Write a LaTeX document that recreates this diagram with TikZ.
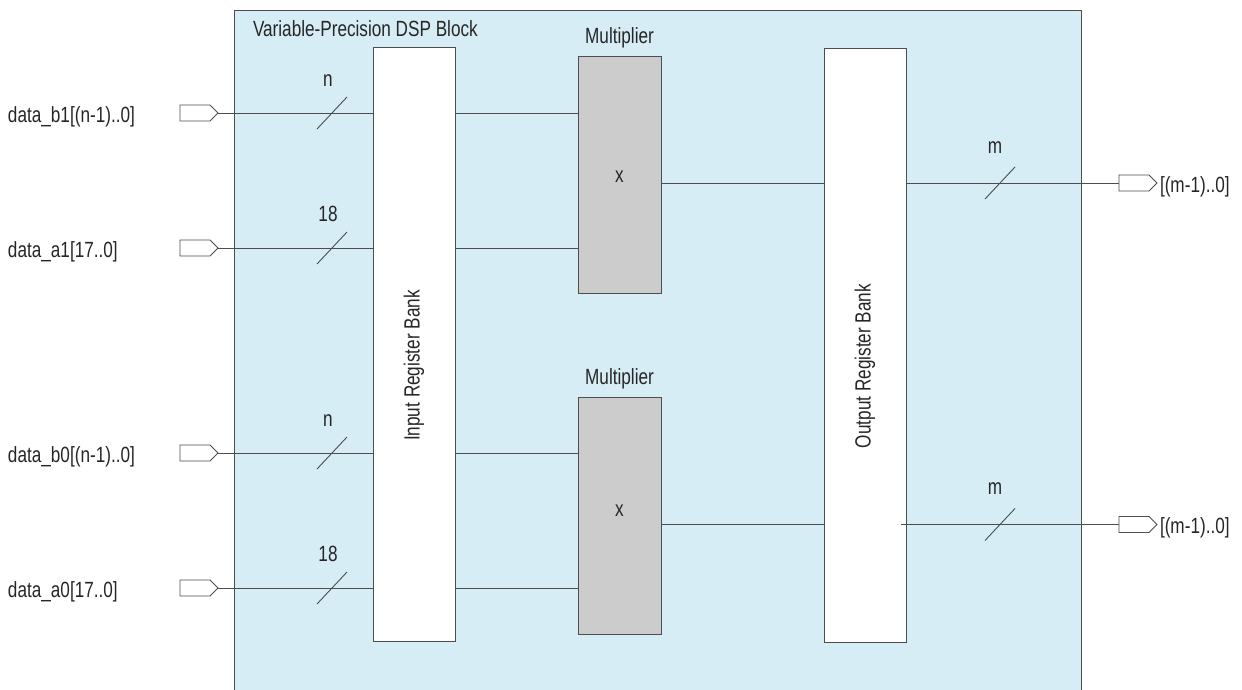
\documentclass[tikz,border=0pt]{standalone}
\usepackage{fontspec}
\setmainfont{Liberation Sans}[FakeStretch=0.78]
\usepackage{xcolor}
\usetikzlibrary{positioning,calc,shapes.symbols}

\definecolor{dspblue}{RGB}{214,237,245}
\definecolor{multgray}{RGB}{204,204,204}
\definecolor{linegray}{RGB}{77,77,77}

\begin{document}
\begin{tikzpicture}[
    x=1pt, y=-1pt,
    outer sep=0pt,
    txt/.style={font=\fontsize{22}{26}\selectfont, inner sep=0pt, text=black!85},
    bank/.style={draw=linegray, line width=1pt, fill=white, minimum width=82pt, minimum height=594pt, inner sep=0pt},
    mult/.style={draw=linegray, line width=1pt, fill=multgray, minimum width=83pt, minimum height=237pt, inner sep=0pt},
    port/.style={draw=linegray, line width=0.9pt, fill=white, signal, signal to=east, minimum width=38pt, minimum height=16pt, inner sep=0pt},
    wire/.style={draw=linegray, line width=0.9pt}
]
    \useasboundingbox (0,0) rectangle (1242,689);

    % DSP block
    \node [draw=linegray, line width=1pt, fill=dspblue, anchor=north west, minimum width=847pt, minimum height=700pt] (dsp) at (234,10) {};
    \node [txt, anchor=base west] (title) at (253,36) {Variable-Precision DSP Block};

    % register banks and multipliers
    \node [bank] (ibank) at (414,344.5) {};
    \node [txt, rotate=90] at ($(ibank.center)+(0,21)$) {Input Register Bank};
    \node [bank] (obank) at (865,345) {};
    \node [txt, rotate=90] at ($(obank.center)+(0,21)$) {Output Register Bank};

    \node [mult] (m1) at (619.5,175) {};
    \node [txt] at ($(m1.center)+(0,2)$) {x};
    \node [txt, anchor=base, above=8pt of m1] {Multiplier};
    \node [mult] (m2) at (619.5,515.5) {};
    \node [txt] at ($(m2.center)+(0,-5)$) {x};
    \node [txt, anchor=base, above=8pt of m2] {Multiplier};

    % input ports
    \node [port] (pb1) at (195,113) {};
    \node [port] (pa1) at (195,248) {};
    \node [port] (pb0) at (195,453) {};
    \node [port] (pa0) at (195,588) {};
    \node [txt, anchor=base west] (lb1) at (8,122) {data\_b1[(n-1)..0]};
    \node [txt, anchor=base west] (la1) at (8,257) {data\_a1[17..0]};
    \node [txt, anchor=base west] (lb0) at (8,462) {data\_b0[(n-1)..0]};
    \node [txt, anchor=base west] (la0) at (8,597) {data\_a0[17..0]};

    % multiplier outputs
    \coordinate (o1) at ([yshift=-8pt]m1.east);
    \coordinate (o2) at ([yshift=-9pt]m2.east);

    % output ports
    \node [port] (po1) at (o1 -| 1134,0) {};
    \node [port] (po0) at (o2 -| 1134,0) {};
    \node [txt, anchor=base west] (lo1) at ($(po1.east)+(3,9)$) {[(m-1)..0]};
    \node [txt, anchor=base west] (lo0) at ($(po0.east)+(3,9)$) {[(m-1)..0]};

    % input wires with bus marks
    \foreach \p/\w/\m in {pb1/n/m1, pa1/18/m1, pb0/n/m2, pa0/18/m2} {
        \draw [wire] (\p.east) -- (\p.east -| ibank.west);
        \draw [wire] (\p.east -| ibank.east) -- (\p.east -| \m.west);
        \coordinate (s) at (\p.east -| 332,0);
        \draw [wire] ($(s)+(-15,16)$) -- ($(s)+(15,-16)$);
        \node [txt, anchor=base] at ($(s)+(-4,-27)$) {\w};
    }

    \draw [wire] (o1) -- (o1 -| obank.west);
    \draw [wire] (o2) -- (o2 -| obank.west);

    % output wires with bus marks
    \draw [wire] (o1 -| obank.east) -- (po1.west);
    \draw [wire] ([xshift=-5pt]o2 -| obank.east) -- (po0.west);
    \foreach \c in {o1, o2} {
        \coordinate (s) at (\c -| 1000,0);
        \draw [wire] ($(s)+(-15,16)$) -- ($(s)+(15,-16)$);
        \node [txt, anchor=base] at ($(s)+(-5,-30)$) {m};
    }
\end{tikzpicture}
\end{document}
